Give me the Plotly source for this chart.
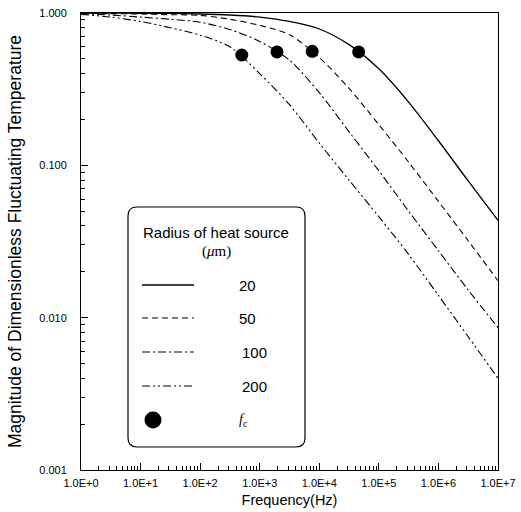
import plotly.graph_objects as go

# ---------------- data ----------------
freq = [1, 3.16, 10, 31.6, 100, 316, 1000, 3160, 1e4, 3.16e4, 1e5, 3.16e5, 1e6, 3.16e6, 1e7]

mag_20 = [0.999, 0.998, 0.996, 0.993, 0.985, 0.97, 0.94, 0.88, 0.785, 0.62, 0.43, 0.26, 0.145, 0.079, 0.0435]
mag_50 = [0.995, 0.99, 0.985, 0.975, 0.965, 0.91, 0.83, 0.72, 0.51, 0.32, 0.185, 0.105, 0.058, 0.032, 0.0175]
mag_100 = [0.99, 0.97, 0.94, 0.91, 0.87, 0.78, 0.65, 0.49, 0.30, 0.166, 0.092, 0.050, 0.0275, 0.0152, 0.0086]
mag_200 = [0.98, 0.94, 0.88, 0.80, 0.715, 0.60, 0.40, 0.25, 0.14, 0.08, 0.046, 0.026, 0.0140, 0.0075, 0.0040]

fc_freq = [500, 1950, 7600, 45700]
fc_mag = [0.53, 0.555, 0.56, 0.555]

series_names = ["20", "50", "100", "200"]
x_tickvals = [1, 10, 100, 1e3, 1e4, 1e5, 1e6, 1e7]
x_ticktext = ["1.0E+0", "1.0E+1", "1.0E+2", "1.0E+3", "1.0E+4", "1.0E+5", "1.0E+6", "1.0E+7"]
y_tickvals = [0.001, 0.01, 0.1, 1]
y_ticktext = ["0.001", "0.010", "0.100", "1.000"]

# ---------------- styles ----------------
dashes = ["solid", "6px,4px", "8px,3px,2px,3px", "8px,3px,2px,3px,2px,3px"]
widths = [1.3, 1.1, 1.1, 1.1]
FONT = "Liberation Sans, Arial, sans-serif"

W, H = 521, 512
L, R, T, B = 81, 23, 13, 42
pw, ph = W - L - R, H - T - B


def px(x):
    return (x - L) / pw


def py(y):
    return (H - B - y) / ph


fig = go.Figure()
for name, mag, dash, w in zip(series_names, [mag_20, mag_50, mag_100, mag_200], dashes, widths):
    fig.add_trace(go.Scatter(x=freq, y=mag, mode="lines", name=name,
                             line=dict(color="black", width=w, dash=dash, shape="spline", smoothing=0.8),
                             showlegend=False))
fig.add_trace(go.Scatter(x=fc_freq, y=fc_mag, mode="markers", name="f_c",
                         marker=dict(color="black", size=13), showlegend=False))

axis_common = dict(showline=True, linecolor="black", linewidth=1, mirror=True, showgrid=False,
                   zeroline=False, ticks="inside", ticklen=7, tickcolor="black", automargin=False,
                   ticklabeloverflow="allow",
                   tickfont=dict(family=FONT, size=11, color="black"))

fig.update_xaxes(type="log", range=[0, 7], tickvals=x_tickvals, ticktext=x_ticktext, ticklabelstandoff=3,
                 minor=dict(ticks="inside", ticklen=4, tickcolor="black", dtick="D1", showgrid=False),
                 title=dict(text="Frequency(Hz)", font=dict(family=FONT, size=14.5, color="black"), standoff=6),
                 **axis_common)
fig.update_yaxes(type="log", range=[-3, 0], tickvals=y_tickvals, ticktext=y_ticktext, ticklabelstandoff=11,
                 minor=dict(ticks="inside", ticklen=4, tickcolor="black", dtick="D1", showgrid=False),
                 title=dict(text="Magnitude of Dimensionless Fluctuating Temperature",
                            font=dict(family=FONT, size=17.5, color="black"), standoff=13),
                 **axis_common)

# ---------------- hand-drawn legend box ----------------
x0, y0, x1, y1, r = 128, 207, 305, 447, 9


def P(x, y):
    return f"{px(x):.5f},{py(y):.5f}"


path = (f"M {P(x0 + r, y0)} L {P(x1 - r, y0)} Q {P(x1, y0)} {P(x1, y0 + r)} "
        f"L {P(x1, y1 - r)} Q {P(x1, y1)} {P(x1 - r, y1)} L {P(x0 + r, y1)} "
        f"Q {P(x0, y1)} {P(x0, y1 - r)} L {P(x0, y0 + r)} Q {P(x0, y0)} {P(x0 + r, y0)} Z")
shapes = [dict(type="path", xref="paper", yref="paper", path=path,
               line=dict(color="black", width=1.2), fillcolor="white", layer="above")]

legend_y = [285, 318, 352, 386]
for yy, dash, w in zip(legend_y, dashes, widths):
    shapes.append(dict(type="line", xref="paper", yref="paper", x0=px(142), x1=px(194), y0=py(yy), y1=py(yy),
                       line=dict(color="black", width=w, dash=dash), layer="above"))
shapes.append(dict(type="circle", xref="paper", yref="paper", x0=px(144.5), x1=px(161.5),
                   y0=py(428.5), y1=py(411.5), fillcolor="black", line=dict(color="black", width=0),
                   layer="above"))

annotations = [
    dict(text="Radius of heat source", x=px(216), y=py(232), xref="paper", yref="paper", showarrow=False,
         font=dict(family=FONT, size=15, color="black"), xanchor="center", yanchor="middle"),
    dict(text="(<i>μ</i>m)", x=px(216), y=py(251), xref="paper", yref="paper", showarrow=False,
         font=dict(family="Liberation Serif, serif", size=15, color="black"), xanchor="center", yanchor="middle"),
    dict(text="<i>f</i><sub>c</sub>", x=px(243), y=py(420), xref="paper", yref="paper", showarrow=False,
         font=dict(family="Liberation Serif, serif", size=14, color="black"), xanchor="center", yanchor="middle"),
]
for yy, name, xs in zip(legend_y, series_names, [237, 237, 240, 240]):
    annotations.append(dict(text=name, x=px(xs), y=py(yy), xref="paper", yref="paper", showarrow=False,
                            font=dict(family=FONT, size=15, color="black"), xanchor="left", yanchor="middle"))

fig.update_layout(width=W, height=H, margin=dict(l=L, r=R, t=T, b=B, pad=0),
                  plot_bgcolor="white", paper_bgcolor="white",
                  shapes=shapes, annotations=annotations, showlegend=False)

fig.write_html("out.html", config={"displayModeBar": False},
               post_script="document.body.style.margin='0';document.body.style.overflow='hidden';")
